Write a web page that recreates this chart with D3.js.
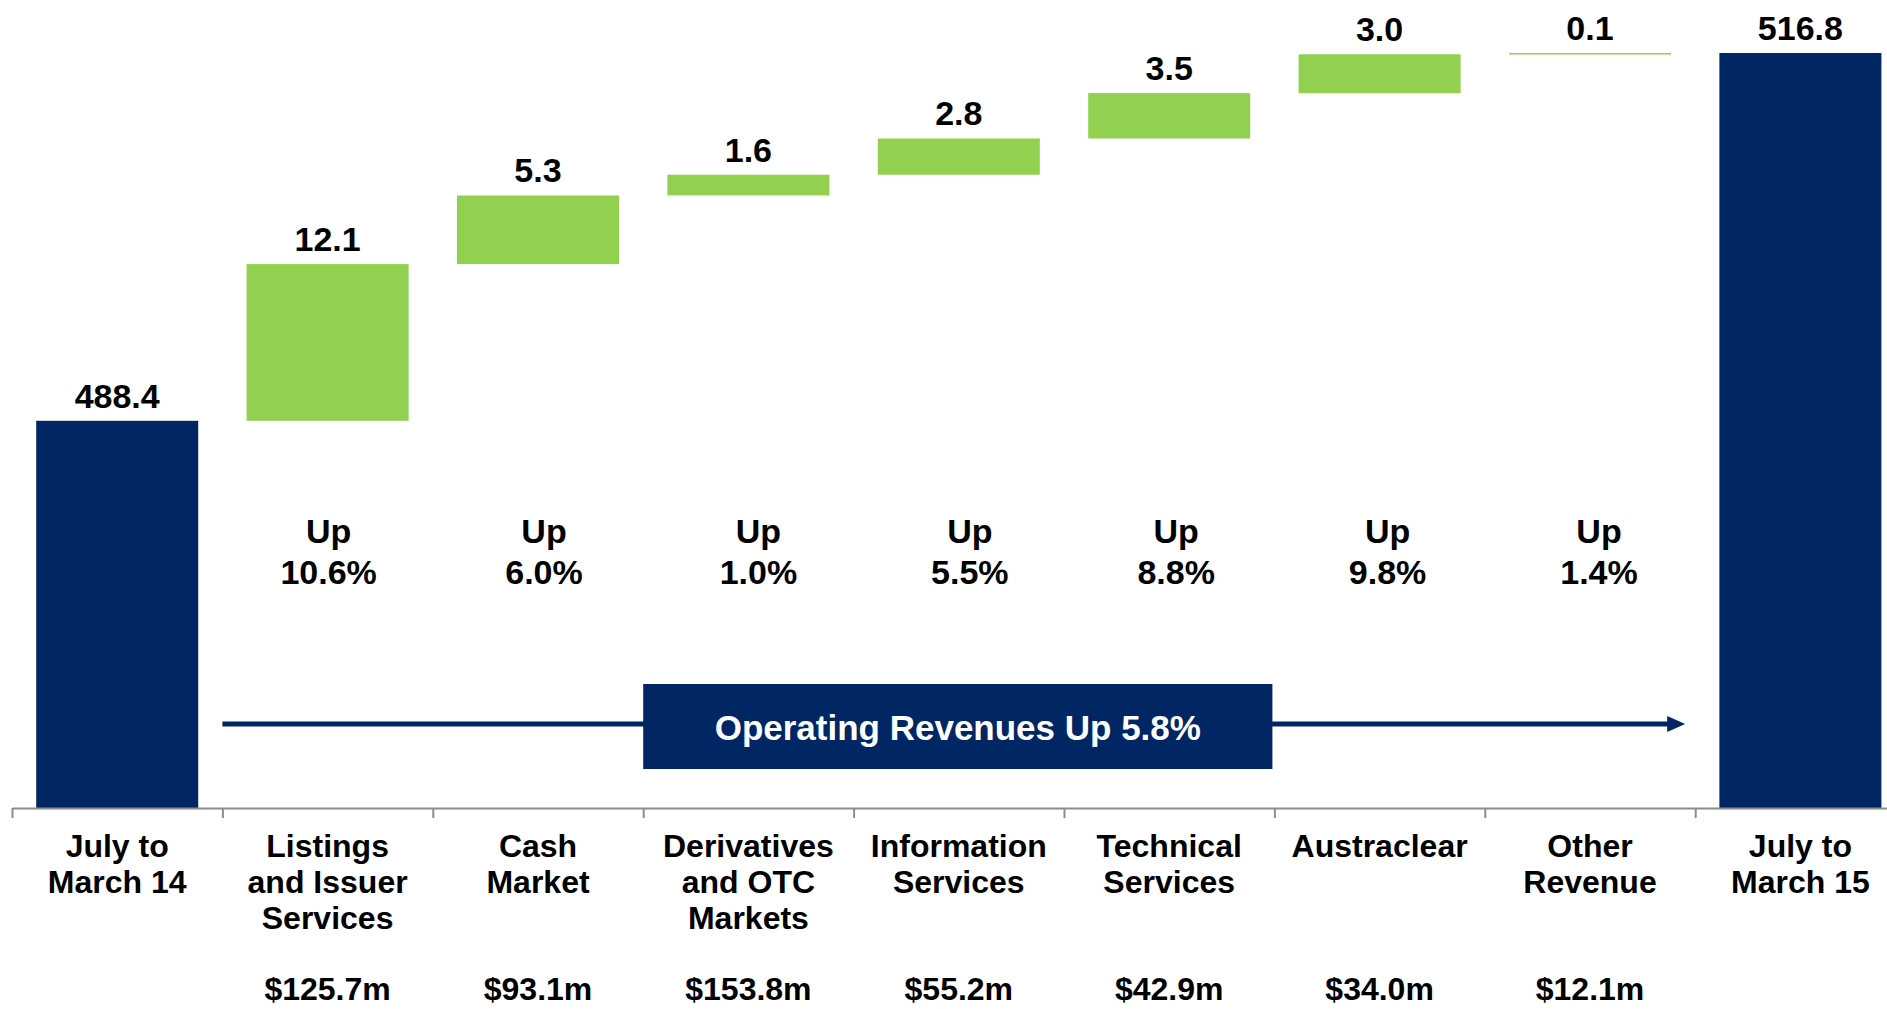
<!DOCTYPE html>
<html>
<head>
<meta charset="utf-8">
<script src="https://cdn.jsdelivr.net/npm/d3@7"></script>
<style>
  html, body { margin: 0; padding: 0; background: #ffffff; overflow: hidden; }
  svg { display: block; font-family: "Liberation Sans", Arial, Helvetica, sans-serif; font-weight: bold; }
</style>
</head>
<body>
<svg id="chart" width="1887" height="1009"></svg>
<script>
// ---- data ----
const categories = [
  "July to\nMarch 14",
  "Listings\nand Issuer\nServices",
  "Cash\nMarket",
  "Derivatives\nand OTC\nMarkets",
  "Information\nServices",
  "Technical\nServices",
  "Austraclear",
  "Other\nRevenue",
  "July to\nMarch 15"
];
const barTypes = ["total", "delta", "delta", "delta", "delta", "delta", "delta", "delta", "total"];
const values = [488.4, 12.1, 5.3, 1.6, 2.8, 3.5, 3.0, 0.1, 516.8];
const pctChange = [null, "10.6%", "6.0%", "1.0%", "5.5%", "8.8%", "9.8%", "1.4%", null];
const revenue = [null, "$125.7m", "$93.1m", "$153.8m", "$55.2m", "$42.9m", "$34.0m", "$12.1m", null];
const summaryText = "Operating Revenues Up 5.8%";
const yDomain = [458.5, 516.8];

// ---- layout ----
const navy = "#002663";
const green = "#92d050";
const axisY = 808;
const left = 12;
const step = 210.4;
const pctOffsets = [0, 1, 6, 10, 11, 7, 8, 9, 0];
const svg = d3.select("#chart");

// compute waterfall start/end
let running = 0;
const bars = categories.map((c, i) => {
  let y0, y1;
  if (barTypes[i] === "total") { y0 = yDomain[0]; y1 = values[i]; running = values[i]; }
  else { y0 = running; y1 = running + values[i]; running = y1; }
  return { cat: c, i, y0, y1, v: values[i], type: barTypes[i] };
});

const x = d3.scaleBand()
  .domain(categories)
  .range([left, left + step * categories.length])
  .paddingInner(0.23)
  .paddingOuter(0.115);

const xi = d3.scaleLinear().domain([0, categories.length]).range([left, left + step * categories.length]);

const y = d3.scaleLinear().domain(yDomain).range([axisY, 53]);

// bars
svg.append("g").selectAll("rect")
  .data(bars).join("rect")
  .attr("x", d => x(d.cat))
  .attr("width", x.bandwidth())
  .attr("y", d => y(Math.max(d.y0, d.y1)))
  .attr("height", d => Math.max(1.5, Math.abs(y(d.y0) - y(d.y1))))
  .attr("fill", d => d.type === "total" ? navy : green);

// value labels
svg.append("g").selectAll("text")
  .data(bars).join("text")
  .attr("x", d => x(d.cat) + x.bandwidth() / 2)
  .attr("y", d => y(Math.max(d.y0, d.y1)) - 13)
  .attr("text-anchor", "middle")
  .attr("font-size", 34)
  .attr("fill", "#000")
  .text(d => d.v.toFixed(1));

// axis with ticks at category boundaries
const axis = d3.axisBottom(xi)
  .tickValues(d3.range(categories.length + 1))
  .tickFormat("")
  .tickSizeInner(10)
  .tickSizeOuter(0);
const gAxis = svg.append("g").attr("transform", `translate(0,${axisY})`).call(axis);
gAxis.selectAll("path, line").attr("stroke", "#8c8c8c").attr("stroke-width", 2);

// category labels
const catG = svg.append("g");
categories.forEach((c, i) => {
  const t = catG.append("text")
    .attr("x", x(c) + x.bandwidth() / 2)
    .attr("y", axisY + 49)
    .attr("text-anchor", "middle")
    .attr("font-size", 32)
    .attr("fill", "#000");
  c.split("\n").forEach((line, k) => {
    t.append("tspan").attr("x", x(c) + x.bandwidth() / 2).attr("dy", k === 0 ? 0 : 36).text(line);
  });
});

// revenue labels
svg.append("g").selectAll("text")
  .data(categories.map((c, i) => ({ c, r: revenue[i] })).filter(d => d.r))
  .join("text")
  .attr("x", d => x(d.c) + x.bandwidth() / 2)
  .attr("y", 1000)
  .attr("text-anchor", "middle")
  .attr("font-size", 32)
  .attr("fill", "#000")
  .text(d => d.r);

// percent labels
const pG = svg.append("g");
categories.forEach((c, i) => {
  if (!pctChange[i]) return;
  const cx = x(c) + x.bandwidth() / 2 + pctOffsets[i];
  const t = pG.append("text").attr("text-anchor", "middle").attr("font-size", 34).attr("fill", "#000");
  t.append("tspan").attr("x", cx).attr("y", 543).text("Up");
  t.append("tspan").attr("x", cx).attr("y", 584).text(pctChange[i]);
});

// arrow
const arrowY = 724;
const arrowStart = xi(1);
const arrowTip = xi(8) - 10;
svg.append("line")
  .attr("x1", arrowStart).attr("x2", arrowTip - 16)
  .attr("y1", arrowY).attr("y2", arrowY)
  .attr("stroke", navy).attr("stroke-width", 5);
svg.append("path")
  .attr("d", `M${arrowTip - 18},${arrowY - 8} L${arrowTip},${arrowY} L${arrowTip - 18},${arrowY + 8} Z`)
  .attr("fill", navy);

// summary box
const boxX0 = xi(3), boxX1 = xi(6) - 2;
svg.append("rect")
  .attr("x", boxX0).attr("y", 684)
  .attr("width", boxX1 - boxX0).attr("height", 85)
  .attr("fill", navy);
svg.append("text")
  .attr("x", (boxX0 + boxX1) / 2)
  .attr("y", 740)
  .attr("text-anchor", "middle")
  .attr("font-size", 35)
  .attr("fill", "#fff")
  .text(summaryText);
</script>
</body>
</html>
